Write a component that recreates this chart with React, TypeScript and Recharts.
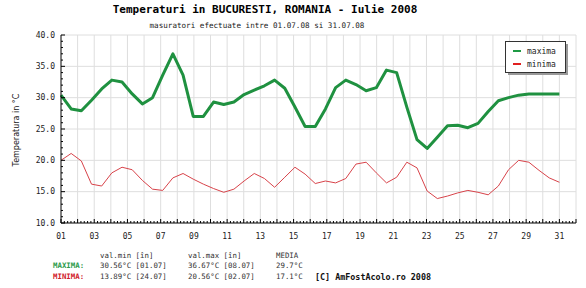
import React from 'react'
import { LineChart, Line, XAxis, YAxis, ReferenceLine } from 'recharts'

// ─── data ────────────────────────────────────────────────────────────────

// 50 readings spread evenly between 01.07 and 31.07
const MAXIMA = [
  30.4, 28.2, 27.9, 29.6, 31.4, 32.8, 32.5, 30.6, 29.0, 30.0,
  33.6, 37.0, 33.6, 27.0, 27.0, 29.3, 28.9, 29.3, 30.5, 31.2,
  31.9, 32.8, 31.5, 28.5, 25.4, 25.4, 28.2, 31.6, 32.8, 32.1,
  31.1, 31.6, 34.4, 34.0, 28.5, 23.3, 21.9, 23.7, 25.5, 25.6,
  25.2, 25.9, 27.8, 29.5, 30.0, 30.4, 30.6, 30.6, 30.6, 30.6,
]
const MINIMA = [
  20.0, 21.1, 19.9, 16.2, 15.9, 18.0, 18.9, 18.5, 16.8, 15.4,
  15.2, 17.2, 17.9, 17.0, 16.2, 15.5, 14.9, 15.4, 16.7, 17.9,
  17.1, 15.7, 17.3, 18.9, 17.8, 16.3, 16.7, 16.4, 17.1, 19.4,
  19.7, 18.0, 16.4, 17.3, 19.7, 18.8, 15.1, 13.9, 14.3, 14.8,
  15.2, 14.9, 14.5, 15.9, 18.5, 20.0, 19.7, 18.4, 17.2, 16.5,
]
const FIRST_DAY = 1
const LAST_DAY = 31

const LABEL_DAYS = [1, 3, 5, 7, 9, 11, 13, 15, 17, 19, 21, 23, 25, 27, 29, 31]
const GRID_DAYS = Array.from({ length: 31 }, (_, i) => i + 2)
const GRID_TEMPS = [15, 20, 25, 30, 35, 40]

const SERIES = [
  { key: 'maxima', label: 'maxima', color: '#1f9140', legend: '#1f9a44', width: 3 },
  { key: 'minima', label: 'minima', color: '#d8434a', legend: '#e02020', width: 1 },
]

const TITLE = 'Temperaturi in BUCURESTI, ROMANIA - Iulie 2008'
const SUBTITLE = 'masuratori efectuate intre 01.07.08 si 31.07.08'
const Y_LABEL = 'Temperatura in °C'

const STAT_HEADERS = ['val.min [în]', 'val.max [în]', 'MEDIA']
const MAX_STATS = ['30.56°C [01.07]', '36.67°C [08.07]', '29.7°C']
const MIN_STATS = ['13.89°C [24.07]', '20.56°C [02.07]', '17.1°C']
const CREDIT = '[C] AmFostAcolo.ro 2008'
const STAT_COLS = [100, 188, 276]

const step = (LAST_DAY - FIRST_DAY) / (MAXIMA.length - 1)
const data = MAXIMA.map((v, i) => ({
  day: FIRST_DAY + i * step,
  maxima: v,
  minima: MINIMA[i],
}))

// minor ticks: every 0.2 day on x, every degree on y
const X_TICKS = Array.from({ length: 156 }, (_, k) => 1 + k / 5)
const Y_TICKS = Array.from({ length: 31 }, (_, k) => 10 + k)

const MONO = '"DejaVu Sans Mono", monospace'

// ─── ticks ───────────────────────────────────────────────────────────────

function XTick({ x, y, payload }: any) {
  const v = payload.value as number
  const r = Math.round(v)
  const whole = Math.abs(v - r) < 1e-6
  const label = whole && LABEL_DAYS.includes(r)
  return (
    <g>
      <line x1={x} x2={x} y1={y} y2={y - (whole ? 4 : 2)} stroke="#000" />
      {label && (
        <text x={x} y={y + 13} textAnchor="middle" dominantBaseline="central" fontSize={8} fontFamily={MONO} fill="#222">
          {String(r).padStart(2, '0')}
        </text>
      )}
    </g>
  )
}

function YTick({ x, y, payload }: any) {
  const v = payload.value as number
  const major = v % 5 === 0
  return (
    <g>
      <line x1={x} x2={x + (major ? 4 : 2)} y1={y} y2={y} stroke="#000" />
      {major && (
        <text x={x - 6} y={y} textAnchor="end" dominantBaseline="central" fontSize={8} fontFamily={MONO} fill="#222">
          {v.toFixed(1)}
        </text>
      )}
    </g>
  )
}

// ─── app ─────────────────────────────────────────────────────────────────

export default function App() {
  return (
    <div style={{ position: 'absolute', left: 0, top: 0, width: 586, height: 288, background: '#fff' }}>
      <LineChart width={586} height={288} data={data} margin={{ top: 35, right: 10, bottom: 35, left: 21 }}>
        <XAxis
          dataKey="day"
          type="number"
          domain={[1, 32]}
          ticks={X_TICKS}
          interval={0}
          height={30}
          tickSize={0}
          tickMargin={0}
          tickLine={false}
          axisLine={{ stroke: '#000' }}
          tick={<XTick />}
        />
        <YAxis
          type="number"
          domain={[10, 40]}
          ticks={Y_TICKS}
          interval={0}
          width={40}
          tickSize={0}
          tickMargin={0}
          tickLine={false}
          axisLine={{ stroke: '#000' }}
          tick={<YTick />}
        />
        {/* grid */}
        {GRID_DAYS.map((d) => (
          <ReferenceLine key={'x' + d} x={d} stroke="#dedede" />
        ))}
        {GRID_TEMPS.map((t) => (
          <ReferenceLine key={'y' + t} y={t} stroke="#dedede" />
        ))}
        {SERIES.map((s) => (
          <Line
            key={s.key}
            type="linear"
            dataKey={s.key}
            stroke={s.color}
            strokeWidth={s.width}
            strokeLinejoin="round"
            dot={false}
            isAnimationActive={false}
          />
        ))}
      </LineChart>

      {/* titles, axis label, legend and summary */}
      <svg width={586} height={288} style={{ position: 'absolute', left: 0, top: 0, pointerEvents: 'none' }}>
        <text x={265} y={9} textAnchor="middle" dominantBaseline="central" fontSize={11} fontWeight="bold" fontFamily={MONO} fill="#000">
          {TITLE}
        </text>
        <text x={257} y={25} textAnchor="middle" dominantBaseline="central" fontSize={7.6} fontFamily={MONO} fill="#222">
          {SUBTITLE}
        </text>
        <text
          x={16}
          y={130}
          transform="rotate(-90 16 130)"
          textAnchor="middle"
          dominantBaseline="central"
          fontSize={8}
          fontFamily='"DejaVu Sans", sans-serif'
          fill="#222"
        >
          {Y_LABEL}
        </text>

        {/* legend */}
        <rect x={508} y={44} width={60} height={31} fill="#999" />
        <rect x={505.5} y={41.5} width={60} height={31} fill="#fff" stroke="#333" />
        {SERIES.map((s, i) => (
          <g key={s.key}>
            <line x1={513} x2={521} y1={51 + i * 13} y2={51 + i * 13} stroke={s.legend} strokeWidth={2} />
            <text x={527} y={51 + i * 13} dominantBaseline="central" fontSize={8} fontFamily={MONO} fill="#222">
              {s.label}
            </text>
          </g>
        ))}

        {/* summary under the chart */}
        {STAT_HEADERS.map((t, i) => (
          <text key={t} x={STAT_COLS[i]} y={255} dominantBaseline="central" fontSize={7.4} fontFamily={MONO} fill="#333">
            {t}
          </text>
        ))}
        <text x={53} y={265.5} dominantBaseline="central" fontSize={7.4} fontWeight="bold" fontFamily={MONO} fill="#2a9a4a">
          MAXIMA:
        </text>
        <text x={53} y={276.5} dominantBaseline="central" fontSize={7.4} fontWeight="bold" fontFamily={MONO} fill="#d0202a">
          MINIMA:
        </text>
        {MAX_STATS.map((t, i) => (
          <text key={t} x={STAT_COLS[i]} y={265.5} dominantBaseline="central" fontSize={7.4} fontFamily={MONO} fill="#333">
            {t}
          </text>
        ))}
        {MIN_STATS.map((t, i) => (
          <text key={t} x={STAT_COLS[i]} y={276.5} dominantBaseline="central" fontSize={7.4} fontFamily={MONO} fill="#333">
            {t}
          </text>
        ))}
        <text x={315} y={276.5} dominantBaseline="central" fontSize={8.4} fontWeight="bold" fontFamily={MONO} fill="#111">
          {CREDIT}
        </text>
      </svg>
    </div>
  )
}
